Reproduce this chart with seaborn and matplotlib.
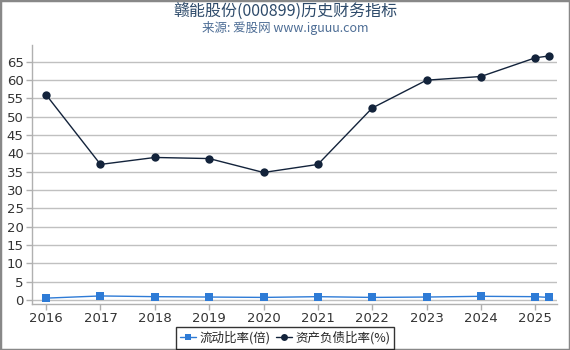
import matplotlib
matplotlib.use("Agg")
import matplotlib.pyplot as plt
import seaborn as sns
import pandas as pd
from matplotlib.patches import Rectangle
from matplotlib.lines import Line2D

years = [2016, 2017, 2018, 2019, 2020, 2021, 2022, 2023, 2024, 2025, 2025.25]
current_ratio = [0.5, 1.1, 0.9, 0.8, 0.7, 0.9, 0.7, 0.8, 1.0, 0.9, 0.7]
debt_ratio = [56.0, 37.0, 38.9, 38.6, 34.8, 37.0, 52.4, 60.0, 61.0, 66.1, 66.6]
xtick_labels = ["2016", "2017", "2018", "2019", "2020", "2021", "2022", "2023", "2024", "2025"]
yticks = list(range(0, 70, 5))
series_names = ["流动比率(倍)", "资产负债比率(%)"]

sns.set_theme(style="white")
plt.rcParams['font.family'] = ['Noto Sans CJK SC', 'DejaVu Sans']

df = pd.DataFrame({"year": years * 2,
                   "value": current_ratio + debt_ratio,
                   "series": [series_names[0]] * len(years) + [series_names[1]] * len(years)})

fig = plt.figure(figsize=(5.7, 3.5), dpi=100)
ax = fig.add_axes([32/570, 1 - 304/350, (557-32)/570, (304-45)/350])

sns.lineplot(data=df, x="year", y="value", hue="series", style="series",
             palette=["#2e7bd6", "#13233b"], markers=["s", "o"], dashes=False,
             markersize=6, linewidth=1, ax=ax, legend=False,
             markeredgewidth=0)

ax.set_xlim(2015.74, 2025.4)
ax.set_ylim(-1.1, 69.6)
ax.set_xticks(list(range(2016, 2026)))
ax.set_xticklabels(xtick_labels, family="DejaVu Sans")
ax.set_yticks(yticks)
ax.set_yticklabels([str(v) for v in yticks], family="DejaVu Sans")
ax.yaxis.grid(True, color="#c0c0c0", linewidth=1)
ax.set_axisbelow(True)
for s in ["top", "right"]:
    ax.spines[s].set_visible(False)
for s in ["left", "bottom"]:
    ax.spines[s].set_color("#b0b0b0")
    ax.spines[s].set_linewidth(1)
ax.tick_params(axis="both", colors="#b0b0b0", labelcolor="#333333", labelsize=9.5,
               length=4, width=1, direction="out", pad=2, left=True, bottom=True)
ax.set_xlabel("")
ax.set_ylabel("")

fig.text(0.5, 1 - 11/350, "赣能股份(000899)历史财务指标", ha="center", va="center",
         fontsize=11.5, color="#2d4a6a")
fig.text(0.5, 1 - 28/350, "来源: 爱股网 www.iguuu.com", ha="center", va="center",
         fontsize=9, color="#4d6d95")

handles = [Line2D([], [], color="#2e7bd6", marker="s", markersize=5, linewidth=1, markeredgewidth=0),
           Line2D([], [], color="#13233b", marker="o", markersize=5, linewidth=1, markeredgewidth=0)]
leg = fig.legend(handles, series_names, loc="center", bbox_to_anchor=(285/570, 1 - 338/350),
                 ncol=2, frameon=True, fontsize=9, handlelength=1.3, handletextpad=0.3,
                 columnspacing=0.4, borderpad=0.3, fancybox=False)
leg.get_frame().set_edgecolor("black")
leg.get_frame().set_linewidth(1)

fig.patches.append(Rectangle((0, 0), 1, 1, transform=fig.transFigure, fill=False,
                             edgecolor="#888888", linewidth=2.5))

fig.savefig("out.png", dpi=100)
